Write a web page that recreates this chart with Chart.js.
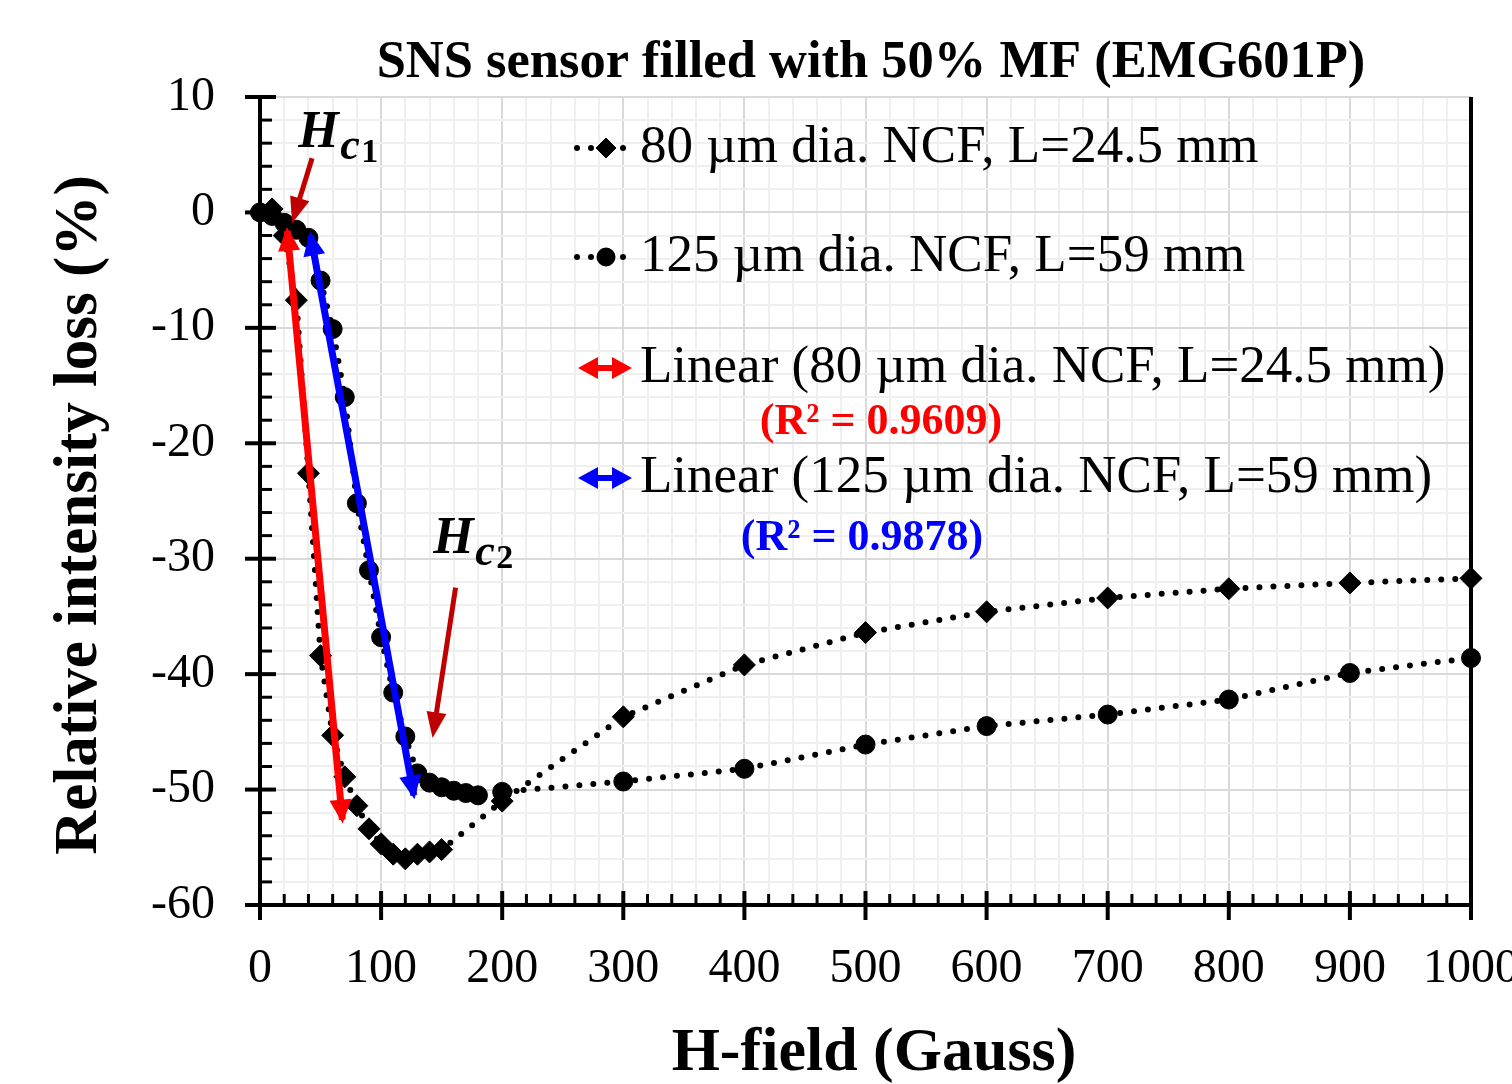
<!DOCTYPE html>
<html>
<head>
<meta charset="utf-8">
<title>SNS sensor filled with 50% MF (EMG601P)</title>
<script src="https://cdn.jsdelivr.net/npm/chart.js@4.4.1/dist/chart.umd.min.js"></script>
<style>
  html, body { margin: 0; padding: 0; background: #fff; }
</style>
</head>
<body>
<canvas id="chart1" width="1512" height="1084"></canvas>
<script>
// data (H-field in Gauss, loss in %)
const hField80 = [0, 10, 20, 30, 40, 50, 60, 70, 80, 90, 100, 110, 120, 130, 140, 150, 200, 300, 400, 500, 600, 700, 800, 900, 1000];
const loss80 = [0, 0.3, -2.0, -7.6, -22.6, -38.4, -45.3, -48.9, -51.4, -53.4, -54.7, -55.6, -56.0, -55.6, -55.4, -55.2, -51.0, -43.7, -39.2, -36.4, -34.6, -33.4, -32.6, -32.1, -31.7];

const hField125 = [0, 10, 20, 30, 40, 50, 60, 70, 80, 90, 100, 110, 120, 130, 140, 150, 160, 170, 180, 200, 300, 400, 500, 600, 700, 800, 900, 1000];
const loss125 = [0, -0.3, -0.9, -1.5, -2.2, -5.9, -10.1, -16.0, -25.2, -31.0, -36.8, -41.6, -45.4, -48.6, -49.4, -49.8, -50.1, -50.3, -50.5, -50.2, -49.3, -48.2, -46.1, -44.5, -43.5, -42.2, -39.9, -38.6];

// linear fits drawn as double arrows (end points)
const fit80X = [22.5, 68];
const fit80Y = [-1.6, -52.6];
const fit125X = [41.8, 127];
const fit125Y = [-2.0, -50.5];

const seriesNames = ["80 \u00b5m dia. NCF, L=24.5 mm", "125 \u00b5m dia. NCF, L=59 mm"];
const fitNames = ["Linear (80 \u00b5m dia. NCF, L=24.5 mm)", "Linear (125 \u00b5m dia. NCF, L=59 mm)"];
const r2Labels = ["(R\u00b2 = 0.9609)", "(R\u00b2 = 0.9878)"];

const FONT = "'Liberation Serif', 'Times New Roman', serif";

function toXY(xs, ys) {
    return xs.map((v, i) => ({x: v, y: ys[i]}));
}

function arrowHead(ctx, x0, y0, x1, y1, len, half) {
    const a = Math.atan2(y1 - y0, x1 - x0);
    const bx = x1 - len * Math.cos(a), by = y1 - len * Math.sin(a);
    ctx.beginPath();
    ctx.moveTo(x1 + 4 * Math.cos(a), y1 + 4 * Math.sin(a));
    ctx.lineTo(bx + half * Math.sin(a), by - half * Math.cos(a));
    ctx.lineTo(bx - half * Math.sin(a), by + half * Math.cos(a));
    ctx.closePath();
    ctx.fill();
}

// heads on the fit lines
const fitArrows = {
    id: "fitArrows",
    afterDatasetsDraw(chart) {
        const ctx = chart.ctx;
        ctx.save();
        chart.data.datasets.forEach((ds, i) => {
            if (!ds.isFit) return;
            const pts = chart.getDatasetMeta(i).data;
            ctx.fillStyle = ds.borderColor;
            arrowHead(ctx, pts[0].x, pts[0].y, pts[1].x, pts[1].y, 20, 11);
            arrowHead(ctx, pts[1].x, pts[1].y, pts[0].x, pts[0].y, 20, 11);
        });
        ctx.restore();
    }
};

// tick marks like the original (majors cross the axis, minors inside) + right frame
const tickMarks = {
    id: "tickMarks",
    afterDraw(chart) {
        const {ctx, scales: {x, y}} = chart;
        ctx.save();
        ctx.strokeStyle = "#000";
        ctx.lineWidth = 4;
        ctx.beginPath();
        ctx.moveTo(x.right, y.top);
        ctx.lineTo(x.right, y.bottom);
        ctx.stroke();
        x.ticks.forEach(t => {
            const px = x.getPixelForValue(t.value);
            const major = t.value % 100 === 0;
            ctx.lineWidth = major ? 4 : 3;
            ctx.beginPath();
            ctx.moveTo(px, y.bottom + (major ? 15 : 0));
            ctx.lineTo(px, y.bottom - (major ? 14 : 11));
            ctx.stroke();
        });
        y.ticks.forEach(t => {
            const py = y.getPixelForValue(t.value);
            const major = t.value % 10 === 0;
            ctx.lineWidth = major ? 4 : 3;
            ctx.beginPath();
            ctx.moveTo(x.left - (major ? 15 : 0), py);
            ctx.lineTo(x.left + (major ? 16 : 12), py);
            ctx.stroke();
        });
        ctx.restore();
    }
};

// titles, legend and the Hc notes
const annotations = {
    id: "annotations",
    afterDraw(chart) {
        const {ctx, scales: {x, y}} = chart;
        ctx.save();
        ctx.fillStyle = "#000";
        ctx.textBaseline = "middle";
        ctx.textAlign = "center";
        ctx.font = "bold 52.5px " + FONT;
        ctx.fillText("SNS sensor filled with 50% MF (EMG601P)", 871, 63);

        ctx.font = "bold 62px " + FONT;
        ctx.fillText("H-field (Gauss)", 874, 1054);
        ctx.save();
        ctx.font = "bold 61px " + FONT;
        ctx.translate(80, 515);
        ctx.rotate(-Math.PI / 2);
        ctx.fillText("Relative intensity loss (%)", 0, 0);
        ctx.restore();

        // legend
        ctx.textAlign = "left";
        ctx.font = "53px " + FONT;
        const rowY = [148, 257, 368, 478];
        const styles = ["rectRot", "circle"];
        for (let i = 0; i < 2; i++) {
            const ly = rowY[i];
            ctx.fillStyle = "#000";
            [577, 591, 623].forEach(dx => {
                ctx.beginPath();
                ctx.arc(dx, ly, 3, 0, Math.PI * 2);
                ctx.fill();
            });
            Chart.helpers.drawPoint(ctx, {pointStyle: styles[i], radius: i === 0 ? 10 : 9, borderWidth: 1}, 606, ly);
            ctx.fill();
            ctx.fillText(seriesNames[i], 640, ly);
        }
        const fitColors = ["#ff0000", "#0000ff"];
        for (let i = 0; i < 2; i++) {
            const ly = rowY[i + 2];
            ctx.strokeStyle = fitColors[i];
            ctx.fillStyle = fitColors[i];
            ctx.lineWidth = 6;
            ctx.beginPath();
            ctx.moveTo(590, ly);
            ctx.lineTo(620, ly);
            ctx.stroke();
            arrowHead(ctx, 605, ly, 628, ly, 16, 11);
            arrowHead(ctx, 605, ly, 582, ly, 16, 11);
            ctx.fillStyle = "#000";
            ctx.fillText(fitNames[i], 640, ly);
        }
        ctx.font = "bold 44px " + FONT;
        ctx.textAlign = "center";
        ctx.fillStyle = "#ff0000";
        ctx.fillText(r2Labels[0], 881, 423);
        ctx.fillStyle = "#0000ff";
        ctx.fillText(r2Labels[1], 862, 539);

        // Hc arrows
        ctx.strokeStyle = "#c00000";
        ctx.fillStyle = "#c00000";
        ctx.lineWidth = 5;
        const hcArrows = [[43, 4.7, 27.5, -0.6], [161.5, -32.5, 143, -45.2]];
        hcArrows.forEach(a => {
            const x0 = x.getPixelForValue(a[0]), y0 = y.getPixelForValue(a[1]);
            const x1 = x.getPixelForValue(a[2]), y1 = y.getPixelForValue(a[3]);
            const ang = Math.atan2(y1 - y0, x1 - x0);
            ctx.beginPath();
            ctx.moveTo(x0, y0);
            ctx.lineTo(x1 - 16 * Math.cos(ang), y1 - 16 * Math.sin(ang));
            ctx.stroke();
            arrowHead(ctx, x0, y0, x1, y1, 22, 10);
        });

        // Hc labels
        ctx.fillStyle = "#000";
        ctx.textAlign = "left";
        ctx.textBaseline = "alphabetic";
        const hcLabels = [["1", 31.5, 5.7], ["2", 143, -29.5]];
        hcLabels.forEach(h => {
            const hx = x.getPixelForValue(h[1]), hy = y.getPixelForValue(h[2]);
            ctx.font = "bold italic 52px " + FONT;
            ctx.fillText("H", hx, hy);
            ctx.font = "bold italic 44px " + FONT;
            ctx.fillText("c", hx + 42, hy + 12);
            ctx.font = "bold 34px " + FONT;
            ctx.fillText(h[0], hx + 63, hy + 15);
        });
        ctx.restore();
    }
};

function drawChart() {
    const ctx1 = document.getElementById("chart1").getContext("2d");
    new Chart(ctx1, {
        type: "scatter",
        data: {
            datasets: [
                {label: fitNames[0], data: toXY(fit80X, fit80Y), isFit: true, showLine: true,
                 borderColor: "#ff0000", borderWidth: 7, pointRadius: 0, order: 0},
                {label: fitNames[1], data: toXY(fit125X, fit125Y), isFit: true, showLine: true,
                 borderColor: "#0000ff", borderWidth: 7, pointRadius: 0, order: 0},
                {label: seriesNames[0], data: toXY(hField80, loss80), showLine: true,
                 borderColor: "#000", borderWidth: 6, borderDash: [0, 14], borderCapStyle: "round",
                 pointStyle: "rectRot", pointRadius: 11, backgroundColor: "#000", pointBorderColor: "#000",
                 pointBorderWidth: 1, order: 2},
                {label: seriesNames[1], data: toXY(hField125, loss125), showLine: true,
                 borderColor: "#000", borderWidth: 6, borderDash: [0, 14], borderCapStyle: "round",
                 pointStyle: "circle", pointRadius: 9.5, backgroundColor: "#000", pointBorderColor: "#000",
                 pointBorderWidth: 1, order: 1}
            ]
        },
        options: {
            responsive: false,
            animation: false,
            devicePixelRatio: 1,
            clip: false,
            layout: {padding: {left: 0, right: 41, top: 97, bottom: 0}},
            plugins: {legend: {display: false}, tooltip: {enabled: false}, title: {display: false}},
            scales: {
                x: {
                    type: "linear", min: 0, max: 1000,
                    afterFit: s => { s.height = 179; s.paddingLeft = 0; s.paddingRight = 0; },
                    ticks: {
                        stepSize: 20, autoSkip: false, maxRotation: 0, padding: 36,
                        color: "#000", font: {family: FONT, size: 48},
                        callback: v => (v % 100 === 0 ? String(v) : "")
                    },
                    grid: {
                        drawTicks: false, lineWidth: 2,
                        color: c => (c.tick && c.tick.value % 100 === 0 ? "#d9d9d9" : "#efefef")
                    },
                    border: {display: true, color: "#000", width: 4}
                },
                y: {
                    type: "linear", min: -60, max: 10,
                    afterFit: s => { s.width = 260; s.paddingTop = 0; s.paddingBottom = 0; },
                    ticks: {
                        stepSize: 2, autoSkip: false, padding: 45,
                        color: "#000", font: {family: FONT, size: 48},
                        callback: v => (v % 10 === 0 ? String(v) : "")
                    },
                    grid: {
                        drawTicks: false, lineWidth: 2,
                        color: c => (c.tick && c.tick.value % 10 === 0 ? "#d9d9d9" : "#efefef")
                    },
                    border: {display: true, color: "#000", width: 4}
                }
            }
        },
        plugins: [fitArrows, tickMarks, annotations]
    });
}

drawChart();
</script>
</body>
</html>
